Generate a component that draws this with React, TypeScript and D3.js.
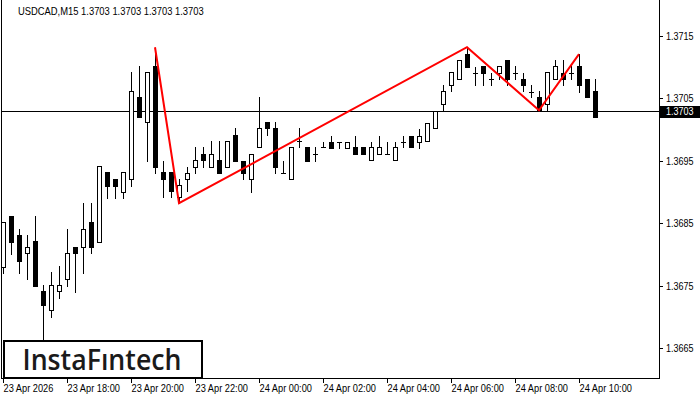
import React from "react";
import * as d3 from "d3";

const SYMBOL_TITLE = "USDCAD,M15  1.3703 1.3703 1.3703 1.3703";
const CANDLE_START = "2026-04-23 16:00";
const CANDLE_MINUTES = 15;

const OPEN = [1.36780,1.36862,1.36831,1.36802,1.36821,1.36741,1.36711,1.36741,1.36761,1.36812,
1.36812,1.36852,1.36820,1.36932,1.36921,1.36900,1.36921,1.37052,1.37012,1.37102,
1.36932,1.36932,1.36892,1.36921,1.36940,1.36961,1.36940,1.36951,1.36940,1.36991,
1.36950,1.36921,1.36972,1.37012,1.37003,1.36930,1.36921,1.36982,1.36972,1.36961,
1.36972,1.36980,1.36980,1.36971,1.36972,1.36972,1.36951,1.36961,1.36961,1.36951,
1.36980,1.36990,1.36980,1.36982,1.37003,1.37041,1.37071,1.37081,1.37121,1.37091,
1.37102,1.37081,1.37091,1.37112,1.37091,1.37081,1.37060,1.37052,1.37041,1.37081,
1.37091,1.37091,1.37102,1.37081,1.37062];

const HIGH = [1.36852,1.36862,1.36841,1.36831,1.36862,1.36751,1.36772,1.36781,1.36841,1.36812,
1.36882,1.36882,1.36942,1.36932,1.36921,1.36932,1.37092,1.37102,1.37092,1.37123,
1.36950,1.36932,1.36921,1.36940,1.36972,1.36972,1.36982,1.36982,1.36982,1.37003,
1.36950,1.36961,1.37052,1.37012,1.37012,1.36950,1.36972,1.37003,1.36972,1.36972,
1.36980,1.36990,1.36980,1.36980,1.36990,1.36972,1.36980,1.36990,1.36980,1.36980,
1.36990,1.36990,1.37001,1.37011,1.37030,1.37071,1.37092,1.37112,1.37131,1.37100,
1.37102,1.37091,1.37102,1.37112,1.37102,1.37091,1.37071,1.37062,1.37092,1.37112,
1.37112,1.37102,1.37121,1.37081,1.37081];

const LOW = [1.36770,1.36800,1.36770,1.36761,1.36749,1.36663,1.36700,1.36730,1.36749,1.36740,
1.36770,1.36802,1.36820,1.36890,1.36890,1.36890,1.36910,1.37020,1.36950,1.36930,
1.36892,1.36892,1.36882,1.36902,1.36930,1.36940,1.36940,1.36930,1.36940,1.36950,
1.36921,1.36900,1.36972,1.36991,1.36930,1.36930,1.36921,1.36972,1.36950,1.36950,
1.36972,1.36971,1.36971,1.36971,1.36961,1.36961,1.36951,1.36961,1.36961,1.36951,
1.36972,1.36972,1.36971,1.36982,1.37003,1.37031,1.37062,1.37081,1.37100,1.37071,
1.37071,1.37071,1.37081,1.37071,1.37081,1.37062,1.37052,1.37031,1.37031,1.37081,
1.37071,1.37081,1.37060,1.37052,1.37020];

const CLOSE = [1.36852,1.36820,1.36789,1.36812,1.36749,1.36719,1.36751,1.36751,1.36802,1.36802,
1.36841,1.36812,1.36942,1.36910,1.36910,1.36932,1.37062,1.37020,1.37092,1.36940,
1.36921,1.36902,1.36911,1.36930,1.36951,1.36951,1.36961,1.36930,1.36982,1.36950,
1.36930,1.36961,1.37003,1.37003,1.36940,1.36930,1.36972,1.36982,1.36950,1.36961,
1.36972,1.36971,1.36980,1.36980,1.36961,1.36961,1.36972,1.36972,1.36961,1.36972,
1.36980,1.36972,1.36990,1.37011,1.37030,1.37062,1.37092,1.37112,1.37100,1.37091,
1.37091,1.37081,1.37102,1.37081,1.37091,1.37071,1.37060,1.37031,1.37092,1.37102,
1.37081,1.37091,1.37071,1.37052,1.37020];

const CURRENT_PRICE = 1.3703;
const CURRENT_LABEL = "1.3703";

// pattern (red polyline) vertices: candle index and price
const PATTERN_INDEX = [19, 22, 58, 67, 72];
const PATTERN_PRICE = [1.37132, 1.36882, 1.37132, 1.37031, 1.37121];

const Y_TICKS = [1.3665, 1.3675, 1.3685, 1.3695, 1.3705, 1.3715];
const Y_TICK_LABELS = ["1.3665", "1.3675", "1.3685", "1.3695", "1.3705", "1.3715"];

const X_TICKS = ["2026-04-23 16:00","2026-04-23 18:00","2026-04-23 20:00","2026-04-23 22:00",
"2026-04-24 00:00","2026-04-24 02:00","2026-04-24 04:00","2026-04-24 06:00","2026-04-24 08:00","2026-04-24 10:00"];
const X_TICK_LABELS = ["23 Apr 2026","23 Apr 18:00","23 Apr 20:00","23 Apr 22:00","24 Apr 00:00",
"24 Apr 02:00","24 Apr 04:00","24 Apr 06:00","24 Apr 08:00","24 Apr 10:00"];

const LOGO_TEXT = "InstaFıntech";

const parse = d3.timeParse("%Y-%m-%d %H:%M");

function NarrowText(props: { x: number; y: number; size: number; fill: string; sx: number; children: any }) {
  return (
    <text transform={`translate(${props.x},${props.y}) scale(${props.sx},1)`}
      fontFamily="'Liberation Sans', Arial, sans-serif" fontSize={props.size} fill={props.fill}
      shapeRendering="auto">
      {props.children}
    </text>
  );
}

export default function App() {
  const W = 700, H = 400;
  const plotRight = 659.5;
  const plotBottom = 378.5;
  const t0 = parse(CANDLE_START) as Date;
  const tEnd = parse(X_TICKS[X_TICKS.length - 1]) as Date;
  const x = d3.scaleTime().domain([t0, tEnd]).range([3, 579]);
  const y = d3.scaleLinear().domain([Y_TICKS[0], Y_TICKS[Y_TICKS.length - 1]]).range([348, 36]);
  const tOf = (i: number) => d3.timeMinute.offset(t0, CANDLE_MINUTES * i);

  const redLine = d3.line<number>()
    .x((i) => x(tOf(PATTERN_INDEX[i])))
    .y((i) => y(PATTERN_PRICE[i]))(PATTERN_INDEX.map((_, i) => i));

  const candles = OPEN.map((o, i) => {
    const c = CLOSE[i], h = HIGH[i], l = LOW[i];
    const cx = Math.round(x(tOf(i)));
    const yo = Math.round(y(o)), yc = Math.round(y(c));
    const yh = Math.round(y(h)), yl = Math.round(y(l));
    const top = Math.min(yo, yc), bot = Math.max(yo, yc);
    const wx = cx + 0.5;
    if (bot - top < 1) {
      return (
        <g key={i}>
          <line x1={wx} x2={wx} y1={yh} y2={yl + 1} stroke="#000" />
          <line x1={cx - 2} x2={cx + 3} y1={top + 0.5} y2={top + 0.5} stroke="#000" />
        </g>
      );
    }
    const bull = c > o;
    return (
      <g key={i}>
        <line x1={wx} x2={wx} y1={yh} y2={yl + 1} stroke="#000" />
        <rect x={cx - 1.5} y={top + 0.5} width={4} height={bot - top}
          fill={bull ? "#fff" : "#000"} stroke="#000" />
      </g>
    );
  });

  const yCur = Math.round(y(CURRENT_PRICE)) + 0.5;

  return (
    <svg width={W} height={H} style={{ position: "absolute", left: 0, top: 0, background: "#fff" }}
      shapeRendering="crispEdges">
      <rect x={0} y={0} width={W} height={H} fill="#fff" />
      {/* frame */}
      <line x1={1.5} x2={1.5} y1={0} y2={plotBottom} stroke="#000" />
      <line x1={plotRight} x2={plotRight} y1={0} y2={plotBottom} stroke="#000" />
      <line x1={1} x2={plotRight} y1={plotBottom} y2={plotBottom} stroke="#000" />

      {/* current price line */}
      <line x1={1} x2={plotRight} y1={yCur} y2={yCur} stroke="#000" />

      {candles}

      <path d={redLine || ""} fill="none" stroke="#ff0000" strokeWidth={2} shapeRendering="auto" />

      {/* y axis ticks and labels */}
      {Y_TICKS.map((v, i) => {
        const ty = Math.round(y(v)) + 0.5;
        return (
          <g key={i}>
            <line x1={plotRight} x2={plotRight + 3} y1={ty} y2={ty} stroke="#000" />
            <NarrowText x={666} y={ty + 3.5} size={10} fill="#000" sx={0.9}>{Y_TICK_LABELS[i]}</NarrowText>
          </g>
        );
      })}
      <rect x={660} y={yCur - 6} width={40} height={12} fill="#000" />
      <NarrowText x={666} y={yCur + 3.5} size={10} fill="#fff" sx={0.9}>{CURRENT_LABEL}</NarrowText>

      {/* x axis ticks and labels */}
      {X_TICKS.map((s, i) => {
        const tx = Math.round(x(parse(s) as Date)) + 0.5;
        return (
          <g key={i}>
            <line x1={tx} x2={tx} y1={plotBottom} y2={plotBottom + 4} stroke="#000" />
            <NarrowText x={tx} y={392} size={10} fill="#000" sx={0.925}>{X_TICK_LABELS[i]}</NarrowText>
          </g>
        );
      })}

      {/* title */}
      <NarrowText x={18} y={14.5} size={10} fill="#000" sx={0.94}>{SYMBOL_TITLE}</NarrowText>

      {/* logo */}
      <rect x={3.5} y={341} width={198} height={37} fill="#fff" stroke="#000" strokeWidth={2} />
      <text x={22.5} y={369.5} fontFamily="'Open Sans', 'Noto Sans', sans-serif" fontWeight={600}
        fontSize={28} fill="#1a1a1a" textLength={159} lengthAdjust="spacingAndGlyphs"
        shapeRendering="auto">{LOGO_TEXT}</text>
    </svg>
  );
}
